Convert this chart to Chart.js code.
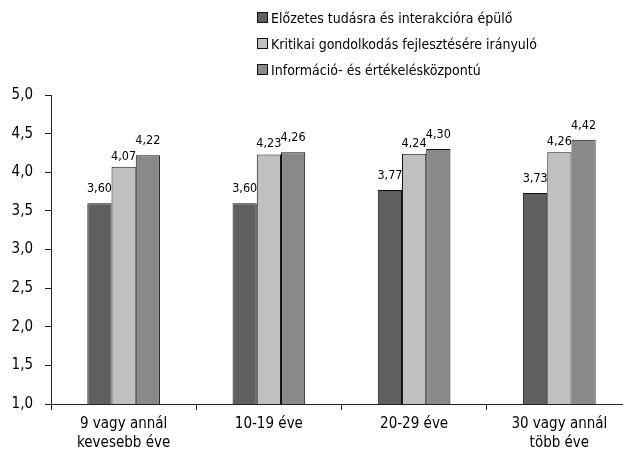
<!DOCTYPE html>
<html>
<head>
<meta charset="utf-8">
<script src="https://cdn.jsdelivr.net/npm/chart.js@4/dist/chart.umd.min.js"></script>
<style>
  html, body { margin: 0; padding: 0; background: #fff; overflow: hidden; }
  #wrap { position: relative; width: 623px; height: 456px; overflow: hidden; }
  #box { position: absolute; left: 0; top: 0; width: 632px; height: 459px; }
  #legend { position: absolute; left: 257px; top: 8px; font-family: "DejaVu Sans Condensed", "DejaVu Sans", sans-serif; font-size: 14px; color: #000; }
  #legend div { height: 26px; line-height: 20px; white-space: nowrap; }
  #legend span.sw { display: inline-block; width: 9px; height: 9px; border: 1px solid #111; margin-right: 3px; vertical-align: 0px; }
</style>
</head>
<body>
<div id="wrap">
  <div id="box"><canvas id="c" width="632" height="459"></canvas></div>
  <div id="legend"></div>
</div>
<script>
const categories = [["9 vagy annál", "kevesebb éve"], "10-19 éve", "20-29 éve", ["30 vagy annál", "több éve"]];
const seriesNames = [
  "Előzetes tudásra és interakcióra épülő",
  "Kritikai gondolkodás fejlesztésére irányuló",
  "Információ- és értékelésközpontú"
];
const priorKnowledge = [3.60, 3.60, 3.77, 3.73];
const criticalThinking = [4.07, 4.23, 4.24, 4.26];
const informationCentred = [4.22, 4.26, 4.30, 4.42];
const yTicks = [1.0, 1.5, 2.0, 2.5, 3.0, 3.5, 4.0, 4.5, 5.0];

const colors = ["#5f5f5f", "#c0c0c0", "#898989"];
const FONT = "DejaVu Sans Condensed";
const fmt = v => v.toFixed(2).replace(".", ",");

// value labels printed above each bar
const valueLabels = {
  id: "valueLabels",
  afterDatasetsDraw(chart) {
    const ctx = chart.ctx;
    ctx.save();
    ctx.font = "12.5px '" + FONT + "'";
    ctx.fillStyle = "#000";
    ctx.textAlign = "center";
    ctx.textBaseline = "bottom";
    chart.data.datasets.forEach((ds, i) => {
      const meta = chart.getDatasetMeta(i);
      meta.data.forEach((bar, j) => {
        const lift = i === 1 ? 4 : 8;
        ctx.fillText(fmt(ds.data[j]), bar.x, bar.y - lift);
      });
    });
    ctx.restore();
  }
};

const chart = new Chart(document.getElementById("c"), {
  type: "bar",
  data: {
    labels: categories,
    datasets: [priorKnowledge, criticalThinking, informationCentred].map((d, i) => ({
      label: seriesNames[i],
      data: d,
      backgroundColor: colors[i],
      borderColor: "#111",
      borderWidth: 1,
      barPercentage: 1,
      categoryPercentage: 0.5
    }))
  },
  options: {
    responsive: false,
    animation: false,
    layout: { padding: { top: 95, left: 0, right: 0, bottom: 2 } },
    plugins: { legend: { display: false }, tooltip: { enabled: false } },
    scales: {
      x: {
        grid: { drawOnChartArea: false, drawTicks: true, tickLength: 6, color: "#222", offset: true },
        border: { color: "#222", width: 1 },
        ticks: { font: { family: FONT, size: 15, lineHeight: 1.3 }, color: "#000", padding: 4, maxRotation: 0 }
      },
      y: {
        min: 1, max: 5,
        afterFit: s => { s.width = 51; },
        afterBuildTicks: s => { s.ticks = yTicks.map(v => ({ value: v })); },
        grid: { drawOnChartArea: false, drawTicks: true, tickLength: 6, color: "#222" },
        border: { color: "#222", width: 1 },
        ticks: { font: { family: FONT, size: 15 }, color: "#000", padding: 12,
                 callback: v => v.toFixed(1).replace(".", ",") }
      }
    }
  },
  plugins: [valueLabels]
});

const legend = document.getElementById("legend");
seriesNames.forEach((name, i) => {
  const row = document.createElement("div");
  const sw = document.createElement("span");
  sw.className = "sw";
  sw.style.background = colors[i];
  row.appendChild(sw);
  row.appendChild(document.createTextNode(name));
  legend.appendChild(row);
});
</script>
</body>
</html>
